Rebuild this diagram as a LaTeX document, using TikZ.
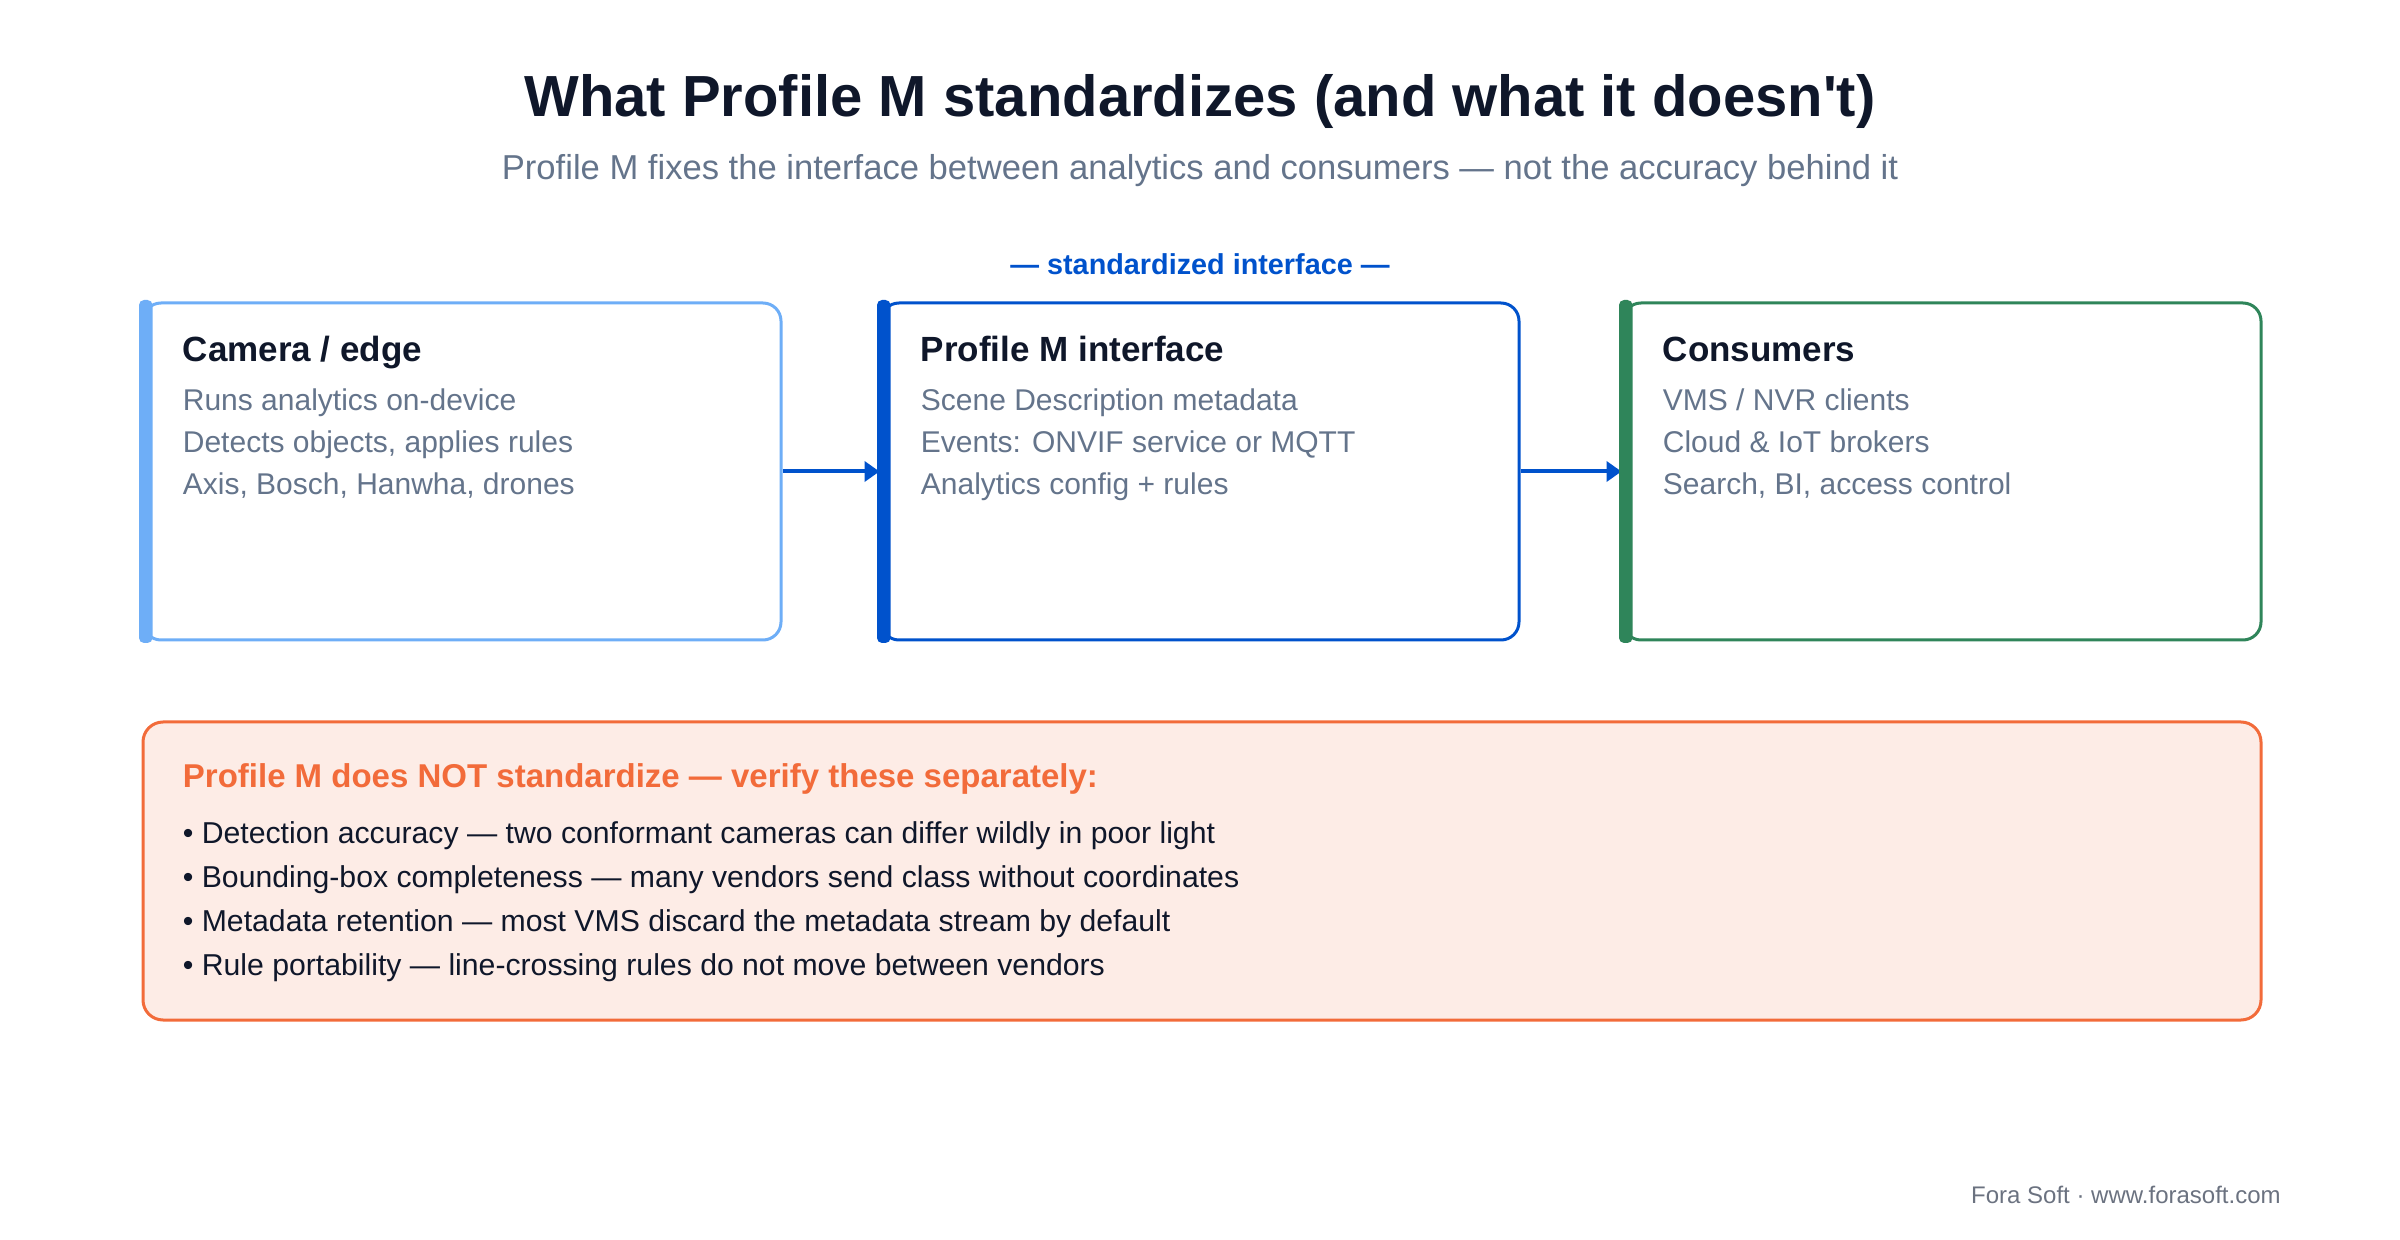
\documentclass[tikz,border=0pt]{standalone}
\usepackage{fontspec}
\setmainfont{Liberation Sans}
\usetikzlibrary{positioning,arrows.meta}
% farben
\definecolor{ink}{HTML}{0F172A}
\definecolor{muted}{HTML}{64748B}
\definecolor{edgeblue}{HTML}{6EAEF7}
\definecolor{ifblue}{HTML}{0052CC}
\definecolor{consgreen}{HTML}{2F855A}
\definecolor{warnorange}{HTML}{F26B3A}
\definecolor{warnfill}{HTML}{FDECE6}
\definecolor{footgray}{HTML}{6B7280}
\tikzset{
  panel/.style={draw=#1, line width=1.5pt, rounded corners=9pt, fill=white,
    minimum width=319pt, minimum height=168.5pt, inner sep=0pt, anchor=north west},
  cardtitle/.style={anchor=base west, inner sep=0pt, text=ink,
    font=\fontsize{17.5}{21}\selectfont\bfseries},
  cardbody/.style={anchor=base west, inner sep=0pt, text=muted,
    font=\fontsize{15}{18}\selectfont},
  flow/.style={draw=ifblue, line width=2pt, -{Triangle[length=7.5pt,width=10pt]}}
}
\begin{document}
\begin{tikzpicture}[x=0.5pt,y=-0.5pt]
\useasboundingbox (0,0) rectangle (2400,1240);
% kopf
\node[anchor=base, inner sep=0pt, text=ink, font=\fontsize{29}{34}\selectfont\bfseries]
  (title) at (1200,117) {What Profile M standardizes (and what it doesn\textquotesingle t)};
\node[anchor=base, inner sep=0pt, text=muted, font=\fontsize{17.3}{20}\selectfont]
  (subtitle) at (1200,180) {Profile M fixes the interface between analytics and consumers — not the accuracy behind it};
% drei kaesten
\node[panel=edgeblue] (cam) at (141.5,301.5) {};
\node[panel=ifblue] (pm) at (879.5,301.5) {};
\node[panel=consgreen] (cons) at (1621.5,301.5) {};
\node[anchor=base, inner sep=0pt, text=ifblue, font=\fontsize{14.4}{17}\selectfont\bfseries]
  (tag) at ([shift={(0,-26.5)}]pm.north) {— standardized interface —};
% pfeile
\draw[flow] (cam.east) -- (pm.west);
\draw[flow] (pm.east) -- (cons.west);
% linke balken
\foreach \n/\c in {cam/edgeblue,pm/ifblue,cons/consgreen}
  \fill[\c, rounded corners=2.5pt] ([shift={(-2.5,-1.5)}]\n.north west) rectangle ([shift={(11,1.5)}]\n.south west);
% texte
\node[cardtitle] (cam-t) at ([shift={(41,60.5)}]cam.north west) {Camera / edge};
\foreach \s [count=\i from 0] in {Runs analytics on-device, {Detects objects, applies rules}, {Axis, Bosch, Hanwha, drones}}
  \node[cardbody] (cam-\i) at ([shift={(41,109.5+42*\i)}]cam.north west) {\s};
\node[cardtitle] (pm-t) at ([shift={(41,60.5)}]pm.north west) {Profile M interface};
\foreach \s [count=\i from 0] in {Scene Description metadata, Events: ONVIF service or MQTT, Analytics config + rules}
  \node[cardbody] (pm-\i) at ([shift={(41,109.5+42*\i)}]pm.north west) {\s};
\node[cardtitle] (cons-t) at ([shift={(41,60.5)}]cons.north west) {Consumers};
\foreach \s [count=\i from 0] in {VMS / NVR clients, Cloud \& IoT brokers, {Search, BI, access control}}
  \node[cardbody] (cons-\i) at ([shift={(41,109.5+42*\i)}]cons.north west) {\s};
% unten
\node[draw=warnorange, fill=warnfill, line width=1.5pt, rounded corners=10pt, inner sep=0pt,
  minimum width=1059pt, minimum height=149pt, anchor=north west] (notstd) at (141.5,720.5) {};
\node[anchor=base west, inner sep=0pt, text=warnorange, font=\fontsize{16.5}{20}\selectfont\bfseries]
  (notstd-t) at ([shift={(41,67.5)}]notstd.north west) {Profile M does NOT standardize — verify these separately:};
\foreach \s [count=\i from 0] in {Detection accuracy — two conformant cameras can differ wildly in poor light,
  Bounding-box completeness — many vendors send class without coordinates,
  Metadata retention — most VMS discard the metadata stream by default,
  Rule portability — line-crossing rules do not move between vendors}
  \node[anchor=base west, inner sep=0pt, text=ink, font=\fontsize{15.1}{18}\selectfont]
    (notstd-\i) at ([shift={(41,122.5+44*\i)}]notstd.north west) {• \s};
% fuss
\node[anchor=base east, inner sep=0pt, text=footgray, font=\fontsize{12}{14}\selectfont]
  (foot) at (2281,1203) {Fora Soft · www.forasoft.com};
\end{tikzpicture}
\end{document}
